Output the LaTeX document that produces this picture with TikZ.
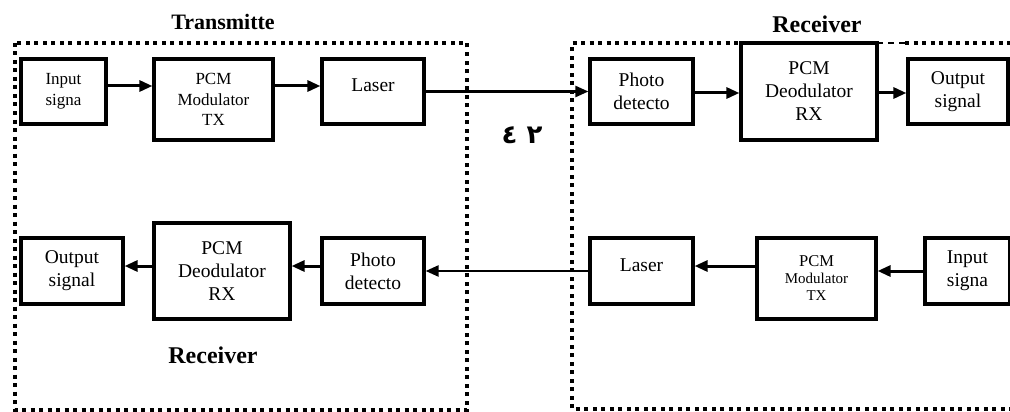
\documentclass[tikz,border=0pt]{standalone}
\usepackage{fontspec}
\setmainfont{Liberation Serif}
\newfontfamily\arabicfont[Script=Arabic]{DejaVu Sans}
\TeXXeTstate=1
\usepackage{tikz}
\usetikzlibrary{arrows.meta,positioning}

\begin{document}
\begin{tikzpicture}[
    x=1pt, y=-1pt,
    box/.style={draw,fill=white,line width=3.2pt,
                minimum width=#1,minimum height=65pt,inner sep=0pt,
                font=\fontsize{19.5}{23}\selectfont,align=center},
    pcm/.style={box=#1,minimum height=97pt},
    frame/.style={line width=4pt,dash pattern=on 4pt off 4.5pt},
    arr/.style={-{Triangle[length=13pt,width=11pt]},line width=3pt},
    link/.style={line width=2.4pt},
    ttl/.style={font=\bfseries\fontsize{24}{28}\selectfont}]

    \useasboundingbox (0,0) rectangle (1010,412);

    % dotted frames
    \draw[frame] (15,43) rectangle (467,410);
    \draw[frame] (905,43) -- (1014,43) -- (1014,409) -- (572,409)
      -- (572,43) -- (741,43);
    \draw[line width=1.4pt,dash pattern=on 6pt off 5pt] (877,43) -- (905,43);
    \node[ttl,font=\bfseries\fontsize{22}{26}\selectfont] (ttx) at (223,22) {Transmitte};
    \node[ttl] (trx) at (817,24) {Receiver};
    \node[ttl] (brx) at (213,355) {Receiver};

    % Transmitter side, top row
    \node[box=85pt,font=\fontsize{17}{20.5}\selectfont] (inA) at (63.5,91.5) {Input\\signa};
    \node[pcm=119pt,minimum height=81pt,font=\fontsize{17}{20.5}\selectfont]
      (modA) at (213.5,99.5) {PCM\\Modulator\\TX};
    \node[box=102pt,text depth=12pt] (lasA) at (373,91.5) {Laser};

    % Receiver side, top row
    \node[box=103pt] (phoB) at (641.5,91.5) {Photo\\detecto};
    \node[pcm=136pt] (demB) at (809,91.5) {PCM\\Deodulator\\RX};
    \node[box=100pt] (outB) at (958,91.5) {Output\\signal};

    % bottom row, left
    \node[box=102pt,minimum height=66pt] (outA) at (72,271) {Output\\signal};
    \node[pcm=136pt,minimum height=96pt] (demA) at (222,271) {PCM\\Deodulator\\RX};
    \node[box=102pt,minimum height=66pt] (phoA) at (373,271) {Photo\\detecto};

    % bottom row, right
    \node[box=103pt,minimum height=66pt,text depth=12pt] (lasB) at (641.5,271) {Laser};
    \node[pcm=119pt,minimum height=81pt,font=\fontsize{15}{17}\selectfont]
      (modB) at (816.5,278.5) {{\fontsize{16.5}{17}\selectfont PCM}\\Modulator\\TX};
    \node[box=85pt,minimum height=66pt] (inB) at (967.5,271) {Input\\signa};

    \node[font=\arabicfont\bfseries\fontsize{26}{30}\selectfont] (num) at (522,135)
      {\beginR ٢ ٤\endR};

    % connectors
    \draw[arr] ([yshift=5.5pt]inA.east) -- ([yshift=5.5pt]inA.east -| modA.west);
    \draw[arr] ([yshift=5.5pt]lasA.west -| modA.east) -- ([yshift=5.5pt]lasA.west);
    \draw[link,-{Triangle[length=13pt,width=11pt]}] (lasA.east) -- (phoB.west);
    \draw[arr] ([yshift=-1.5pt]phoB.east) -- ([yshift=-1.5pt]phoB.east -| demB.west);
    \draw[arr] ([yshift=-1.5pt]demB.east) -- ([yshift=-1.5pt]demB.east -| outB.west);

    \draw[arr] (inB.west) -- (inB.west -| modB.east);
    \draw[arr] ([yshift=5pt]lasB.east -| modB.west) -- ([yshift=5pt]lasB.east);
    \draw[link,-{Triangle[length=13pt,width=11pt]}] (lasB.west) -- (phoA.east);
    \draw[arr] ([yshift=5pt]phoA.west) -- ([yshift=5pt]phoA.west -| demA.east);
    \draw[arr] ([yshift=5pt]demA.west) -- ([yshift=5pt]demA.west -| outA.east);
  \end{tikzpicture}
\end{document}
